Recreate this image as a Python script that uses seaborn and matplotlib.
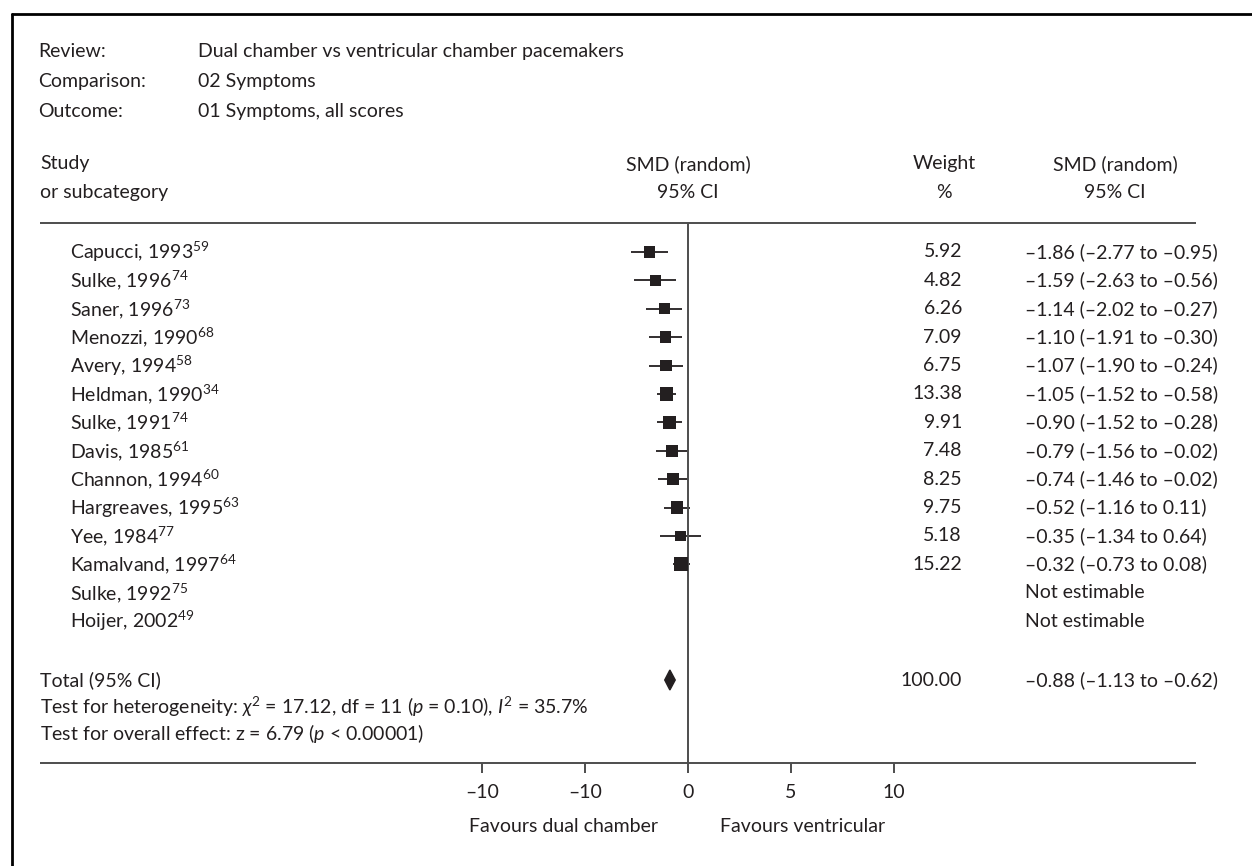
import numpy as np
import pandas as pd
import matplotlib
matplotlib.use("Agg")
import matplotlib.pyplot as plt
import seaborn as sns
from matplotlib.lines import Line2D
from matplotlib.patches import Polygon

# ---------------- data ----------------
studies = ["Capucci, 1993", "Sulke, 1996", "Saner, 1996", "Menozzi, 1990",
           "Avery, 1994", "Heldman, 1990", "Sulke, 1991", "Davis, 1985",
           "Channon, 1994", "Hargreaves, 1995", "Yee, 1984", "Kamalvand, 1997",
           "Sulke, 1992", "Hoijer, 2002"]
refs = ["59", "74", "73", "68", "58", "34", "74", "61", "60", "63", "77", "64", "75", "49"]
weights = [5.92, 4.82, 6.26, 7.09, 6.75, 13.38, 9.91, 7.48, 8.25, 9.75, 5.18, 15.22]
smd = [-1.86, -1.59, -1.14, -1.10, -1.07, -1.05, -0.90, -0.79, -0.74, -0.52, -0.35, -0.32]
ci_low = [-2.77, -2.63, -2.02, -1.91, -1.90, -1.52, -1.52, -1.56, -1.46, -1.16, -1.34, -0.73]
ci_high = [-0.95, -0.56, -0.27, -0.30, -0.24, -0.58, -0.28, -0.02, -0.02, 0.11, 0.64, 0.08]
total_smd, total_low, total_high, total_weight = -0.88, -1.13, -0.62, 100.00
tick_values = [-10, -5, 0, 5, 10]
tick_labels = ["–10", "–10", "0", "5", "10"]
header_keys = ["Review:", "Comparison:", "Outcome:"]
header_vals = ["Dual chamber vs ventricular chamber pacemakers", "02 Symptoms",
               "01 Symptoms, all scores"]

# ---------------- style ----------------
sns.set_theme(style="white")
plt.rcParams['font.family'] = ['Lato', 'DejaVu Sans']
plt.rcParams['mathtext.fontset'] = 'custom'
plt.rcParams['mathtext.rm'] = 'Lato'
plt.rcParams['mathtext.it'] = 'Lato:italic'
plt.rcParams['mathtext.bf'] = 'Lato:bold'
TXT = "#231f20"
LINE = "#4d4d4d"
FS = 14

W, H = 1252, 866
fig = plt.figure(figsize=(W / 100, H / 100), dpi=100)
ax = fig.add_axes([0, 0, 1, 1])
X0, PPU = 688, 20.6        # pixel of zero, pixels per SMD unit
ROW0, ROWH = 252, 28.4     # pixel of first row, row height
ax.set_xlim(-X0 / PPU, (W - X0) / PPU)
ax.set_ylim((H - ROW0) / ROWH, -ROW0 / ROWH)
ax.axis("off")


def px(x):
    return (x - X0) / PPU


def py(y):
    return (y - ROW0) / ROWH


def txt(x, y, s, ha="left", **kw):
    ax.text(px(x), py(y), s, ha=ha, va="center", fontsize=kw.pop("fontsize", FS),
            color=TXT, **kw)


# frame (top and left edges)
fig.add_artist(Line2D([12 / W, 1], [1 - 14 / H, 1 - 14 / H], transform=fig.transFigure,
                      color="black", lw=2))
fig.add_artist(Line2D([12 / W, 12 / W], [0, 1 - 14 / H], transform=fig.transFigure,
                      color="black", lw=2))

# review header block
for k, v, y in zip(header_keys, header_vals, [52, 82, 112]):
    txt(38, y, k)
    txt(198, y, v)

# column headers
txt(40, 164, "Study")
txt(40, 193, "or subcategory")
txt(688, 164, "SMD (random)", ha="center")
txt(688, 193, "95% CI", ha="center")
txt(944, 164, "Weight", ha="center")
txt(944, 193, "%", ha="center")
txt(1115, 164, "SMD (random)", ha="center")
txt(1115, 193, "95% CI", ha="center")
ax.hlines(py(223), px(40), px(1196), color=LINE, lw=1.4)

# study rows
n_est = len(smd)
rows = np.arange(len(studies))
for i, (name, r) in enumerate(zip(studies, refs)):
    txt(70, ROW0 + i * ROWH, name + r"$^{" + r + "}$")
for i in range(len(studies)):
    y = ROW0 + i * ROWH
    if i < n_est:
        txt(962, y, f"{weights[i]:.2f}", ha="right")
        s = f"{smd[i]:.2f} ({ci_low[i]:.2f} to {ci_high[i]:.2f})".replace("-", "–")
        txt(1025, y, s)
    else:
        txt(1025, y, "Not estimable")

df = pd.DataFrame({"smd": smd, "lo": ci_low, "hi": ci_high, "w": weights,
                   "row": rows[:n_est]})
ax.hlines(df["row"], df["lo"], df["hi"], color=TXT, lw=1.3, zorder=2)
sns.scatterplot(data=df, x="smd", y="row", size="w", sizes=(60, 100),
                size_norm=(min(weights), max(weights)), marker="s", color=TXT,
                linewidth=0, legend=False, ax=ax, zorder=3)

# total
yt = py(680)
dh = 10 / ROWH
ax.add_patch(Polygon([(total_low, yt), (total_smd, yt - dh), (total_high, yt),
                      (total_smd, yt + dh)], closed=True, color=TXT, zorder=3))
txt(40, 680, "Total (95% CI)")
txt(962, 680, f"{total_weight:.2f}", ha="right")
txt(1025, 680, f"{total_smd:.2f} ({total_low:.2f} to {total_high:.2f})".replace("-", "–"))
txt(40, 707, r"Test for heterogeneity: $\chi^2$ = 17.12, df = 11 ($p$ = 0.10), $I^2$ = 35.7%")
txt(40, 734, r"Test for overall effect: z = 6.79 ($p$ < 0.00001)")

# zero line and axis
ax.vlines(0, py(223), py(763), color=LINE, lw=1.4)
ax.hlines(py(763), px(40), px(1196), color=LINE, lw=1.4)
ax.vlines(tick_values, py(763), py(773), color=LINE, lw=1.4)
for v, lab in zip(tick_values, tick_labels):
    ax.text(v, py(793), lab, ha="center", va="center", fontsize=FS, color=TXT)
txt(658, 827, "Favours dual chamber", ha="right")
txt(720, 827, "Favours ventricular", ha="left")

fig.savefig("out.png", dpi=100)
